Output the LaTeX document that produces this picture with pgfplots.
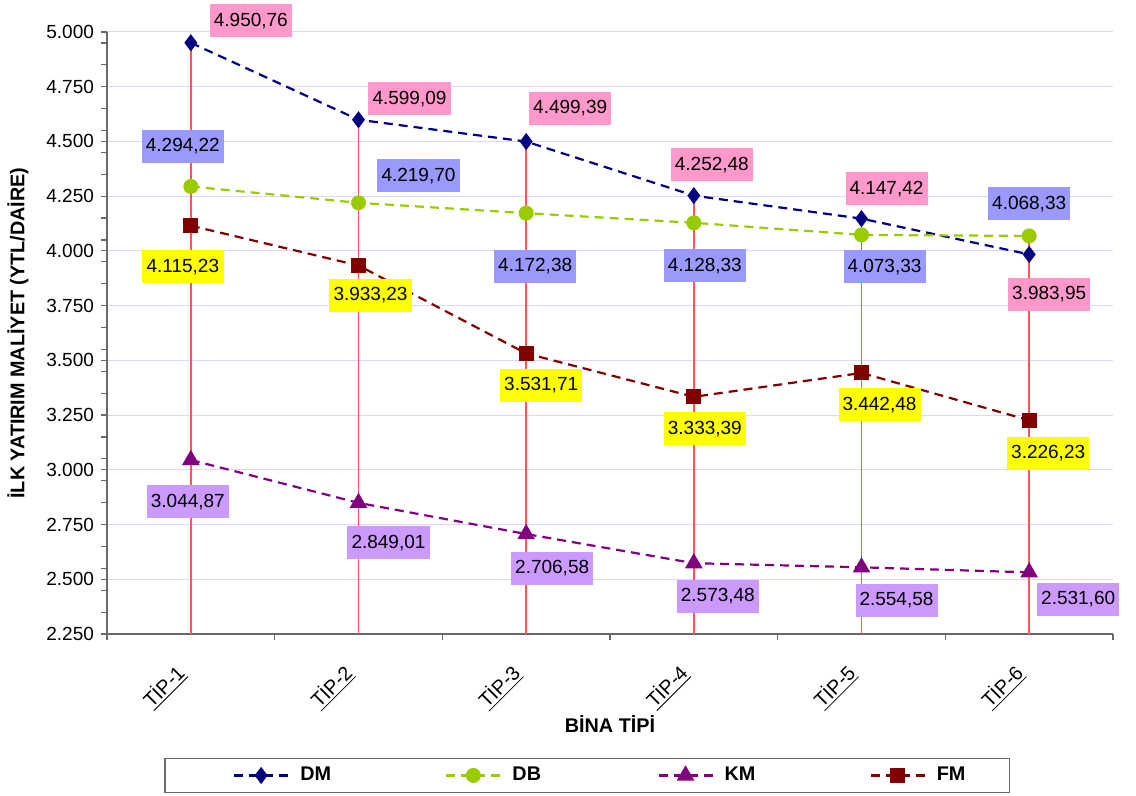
\documentclass[border=0pt]{standalone}
\usepackage{pgfplots}
\pgfplotsset{compat=1.18}
\usepackage{pgfplotstable}
\usepackage{fontspec}
\setmainfont{Liberation Sans}

\definecolor{dmc}{RGB}{0,0,128}
\definecolor{dbc}{RGB}{153,204,0}
\definecolor{kmc}{RGB}{128,0,128}
\definecolor{fmc}{RGB}{128,0,0}
\definecolor{dmbox}{RGB}{255,153,204}
\definecolor{dbbox}{RGB}{153,153,255}
\definecolor{kmbox}{RGB}{204,153,255}
\definecolor{fmbox}{RGB}{255,255,0}
\definecolor{gridc}{RGB}{226,212,250}
\definecolor{dropc}{RGB}{255,85,85}
\definecolor{axc}{RGB}{105,105,105}

\newcommand\lblfont{\fontsize{9.5}{11}\selectfont}
\newcommand\capfont{\fontsize{9.9}{12}\selectfont}

% x = bina tipi (0..5), y = maliyet, dx/dy = label offset in pt
\pgfplotstableread{
x y dx dy
0 4950.76 30 11
1 4599.09 25.5 10.5
2 4499.39 22 16.5
3 4252.48 9 15.5
4 4147.42 12.5 15
5 3983.95 10 -20
}\dmdata
\pgfplotstableread{
x y dx dy
0 4294.22 -4 20
1 4219.70 30 13.5
2 4172.38 4.5 -26.5
3 4128.33 5.5 -21.5
4 4073.33 11.5 -16
5 4068.33 0 16
}\dbdata
\pgfplotstableread{
x y dx dy
0 3044.87 -1.5 -21
1 2849.01 15 -20
2 2706.58 13 -17
3 2573.48 12 -16.5
4 2554.58 17.5 -16.5
5 2531.60 24.5 -13.5
}\kmdata
\pgfplotstableread{
x y dx dy
0 4115.23 -4 -20.5
1 3933.23 6 -15
2 3531.71 7.5 -16
3 3333.39 5.5 -16
4 3442.48 9 -16
5 3226.23 9.5 -16.5
}\fmdata

\pgfplotsset{
  vallabel/.style={
    nodes near coords={\pgfmathprintnumber[fixed,fixed zerofill,precision=2,use comma,1000 sep={.},assume math mode=true]{\pgfplotspointmeta}},
    visualization depends on={\thisrow{dx}\as\dx},
    visualization depends on={\thisrow{dy}\as\dy},
    every node near coord/.style={anchor=center, xshift=\dx pt, yshift=\dy pt,
      fill=#1, text=black, font=\lblfont, minimum width=41pt,
      minimum height=16.5pt, inner sep=0pt},
  },
  serie/.style={color=#1, line width=1.1pt, dash pattern=on 4.5pt off 3pt,
    mark options={solid, fill=#1}},
}

\begin{document}
\begin{tikzpicture}
\begin{axis}[
  name=ax,
  scale only axis, width=503pt, height=301pt,
  xmin=-0.5, xmax=5.5, ymin=2250, ymax=5000,
  clip=false,
  axis x line*=bottom, axis y line*=left,
  axis line style={axc, line width=0.8pt, -},
  tick style={axc, line width=0.6pt},
  tick align=outside, major tick length=3pt, minor tick length=3pt,
  ytick={2250,2500,...,5000},
  minor ytick={2350,2450,...,4950},
  scaled y ticks=false,
  ymajorgrids, major grid style={gridc, line width=0.5pt},
  yticklabel style={font=\lblfont, /pgf/number format/.cd, fixed, precision=0, 1000 sep={.}, assume math mode=true},
  xtick={-0.5,0.5,...,5.5}, xticklabels={},
  extra x ticks={0,1,2,3,4,5},
  extra x tick labels={\underline{TİP-1},\underline{TİP-2},\underline{TİP-3},\underline{TİP-4},\underline{TİP-5},\underline{TİP-6}},
  extra x tick style={major tick length=0pt, grid=none,
    xticklabel style={rotate=45, anchor=north east, font=\capfont, xshift=-12.5pt, yshift=-0.5pt}},
  ylabel={İLK YATIRIM MALİYET (YTL/DAİRE)},
  ylabel style={font=\capfont\bfseries, at={([xshift=-44.5pt]rel axis cs:0,0.5)}, anchor=center},
  xlabel={BİNA TİPİ},
  xlabel style={font=\capfont\bfseries, at={([yshift=-45pt]rel axis cs:0.5,0)}, anchor=center},
  legend columns=4,
  legend cell align=left,
  legend style={at={(0.4776,-0.235)}, anchor=center, draw=axc, line width=0.6pt,
    font=\capfont\bfseries, inner xsep=34pt, inner ysep=2.2pt},
  legend image code/.code={
    \draw[mark repeat=2,mark phase=2] plot coordinates {(0pt,0pt) (13.5pt,0pt) (27pt,0pt)};
  },
]
% drop lines from the highest value of each type down to the axis
\addplot[dropc, line width=0.7pt, unbounded coords=jump, forget plot] coordinates {
  (0,2250) (0,4950.76) (0,nan)
  (1,2250) (1,4599.09) (1,nan)
  (2,2250) (2,4499.39) (2,nan)
  (3,2250) (3,4252.48) (3,nan)
  (4,2250) (4,4147.42) (4,nan)
  (5,2250) (5,4068.33)
};

\addplot[serie=dmc, mark=diamond*, mark size=3.4pt, vallabel=dmbox] table[x=x,y=y] {\dmdata};
\addlegendentry{\makebox[74pt][l]{\hspace{3.5pt}DM}}
\addplot[serie=dbc, mark=*, mark size=3.2pt, vallabel=dbbox] table[x=x,y=y] {\dbdata};
\addlegendentry{\makebox[74pt][l]{\hspace{3.5pt}DB}}
\addplot[serie=kmc, mark=triangle*, mark size=4pt, vallabel=kmbox] table[x=x,y=y] {\kmdata};
\addlegendentry{\makebox[74pt][l]{\hspace{3.5pt}KM}}
\addplot[serie=fmc, mark=square*, mark size=3.2pt, vallabel=fmbox] table[x=x,y=y] {\fmdata};
\addlegendentry{\makebox[4pt][l]{\hspace{3.5pt}FM}}
\end{axis}
\pgfresetboundingbox
\path[use as bounding box] ([xshift=-53.5pt,yshift=-81pt]ax.south west) rectangle ([xshift=11.5pt,yshift=16pt]ax.north east);
\end{tikzpicture}
\end{document}
